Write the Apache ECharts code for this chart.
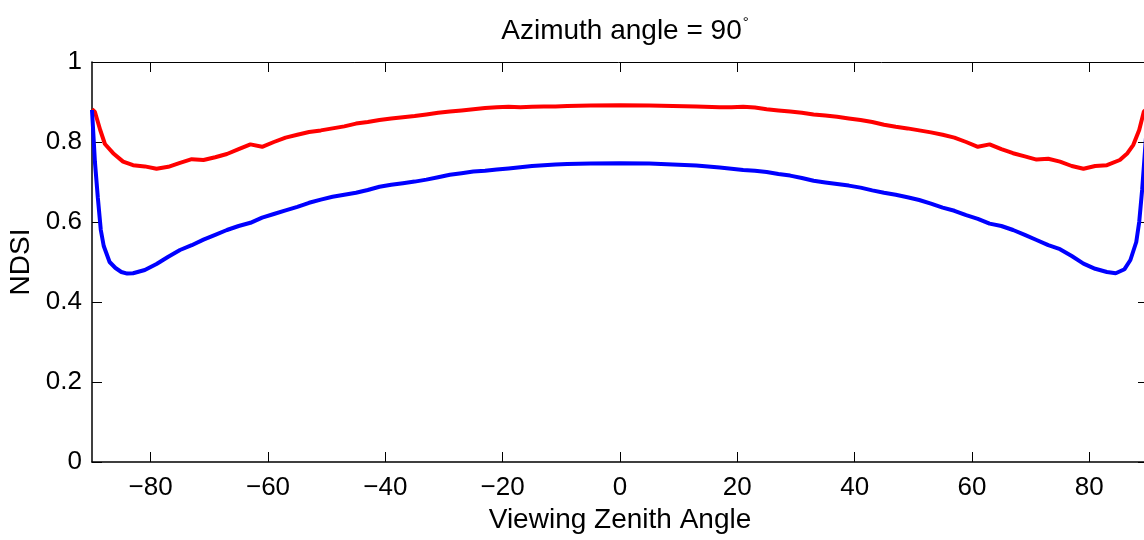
<!DOCTYPE html>
<html>
<head>
<meta charset="utf-8">
<script src="https://cdn.jsdelivr.net/npm/echarts@6/dist/echarts.min.js"></script>
<style>
  html, body { margin: 0; padding: 0; background: #fff; }
  #main { width: 1144px; height: 540px; }
</style>
</head>
<body>
<div id="main"></div>
<script>
// tick positions
var xTicks = [-80, -60, -40, -20, 0, 20, 40, 60, 80];

// red curve
var redAngles = [-90, -89.5, -88.6, -87.8, -86.4, -84.7, -83, -81, -79, -77, -75, -73, -71, -69, -67, -65, -63, -61, -59, -57, -55,
  -53, -51, -49, -47, -45, -43, -41, -39, -37, -35, -33, -31, -29, -27, -25, -23, -21, -19, -17, -15,
  -13, -11, -9, -5, 0, 5, 9, 13, 17, 19, 21, 23, 25, 27, 29, 31, 33, 35, 37, 39,
  41, 43, 45, 47, 49, 51, 53, 55, 57, 59, 61, 63, 65, 67, 69, 71, 73, 75, 77, 79,
  81, 83, 85.2, 86.5, 87.5, 88.5, 89.3, 90];
var redNdsi = [0.882, 0.875, 0.83, 0.795, 0.772, 0.751, 0.742, 0.739, 0.733, 0.738, 0.748, 0.757, 0.755, 0.762, 0.77, 0.782, 0.794, 0.788, 0.80, 0.811, 0.818,
  0.825, 0.829, 0.834, 0.839, 0.846, 0.85, 0.855, 0.859, 0.862, 0.865, 0.869, 0.873, 0.876, 0.879, 0.882, 0.885, 0.887, 0.888, 0.887, 0.888,
  0.889, 0.889, 0.890, 0.891, 0.892, 0.891, 0.890, 0.889, 0.887, 0.887, 0.888, 0.886, 0.882, 0.879, 0.876, 0.873, 0.869, 0.866, 0.863, 0.859,
  0.855, 0.85, 0.843, 0.838, 0.834, 0.829, 0.824, 0.818, 0.811, 0.80, 0.788, 0.794, 0.782, 0.772, 0.764, 0.756, 0.758, 0.751, 0.74, 0.733,
  0.74, 0.742, 0.755, 0.772, 0.793, 0.83, 0.876, 0.885];

// blue curve
var blueAngles = [-90, -89.5, -89, -88.5, -88, -87, -86, -85, -84, -83, -81, -79, -77, -75, -73, -71, -69, -67, -65, -63,
  -61, -59, -57, -55, -53, -51, -49, -47, -45, -43, -41, -39, -37, -35, -33, -31, -29, -27, -25, -23,
  -21, -19, -17, -15, -13, -11, -9, -5, 0, 5, 9, 13, 17, 19, 21, 23, 25, 27, 29, 31,
  33, 35, 37, 39, 41, 43, 45, 47, 49, 51, 53, 55, 57, 59, 61, 63, 65, 67, 69, 71,
  73, 75, 77, 79, 81, 83, 84.5, 86, 87, 88, 88.5, 89, 89.5, 90];
var blueNdsi = [0.88, 0.75, 0.66, 0.58, 0.54, 0.50, 0.485, 0.475, 0.471, 0.472, 0.48, 0.495, 0.513, 0.53, 0.542, 0.556, 0.568, 0.58, 0.59, 0.598,
  0.611, 0.62, 0.629, 0.638, 0.648, 0.656, 0.663, 0.668, 0.673, 0.68, 0.688, 0.693, 0.697, 0.701, 0.706, 0.712, 0.718, 0.722, 0.726, 0.728,
  0.731, 0.734, 0.737, 0.74, 0.742, 0.744, 0.745, 0.746, 0.747, 0.746, 0.744, 0.741, 0.736, 0.733, 0.73, 0.728, 0.725, 0.72, 0.716, 0.71,
  0.703, 0.699, 0.695, 0.691, 0.686, 0.679, 0.673, 0.668, 0.662, 0.655, 0.646, 0.636, 0.628, 0.617, 0.608, 0.596, 0.59, 0.58, 0.568, 0.555,
  0.542, 0.532, 0.515, 0.496, 0.483, 0.475, 0.472, 0.482, 0.505, 0.55, 0.60, 0.68, 0.78, 0.88];

function pairs(xs, ys) {
  return xs.map(function (x, i) { return [x, ys[i]]; });
}

var font = "'Liberation Sans', Arial, Helvetica, sans-serif";
var chart = echarts.init(document.getElementById('main'), null, { renderer: 'canvas' });

var option = {
  backgroundColor: '#fff',
  animation: false,
  textStyle: { fontFamily: font },
  title: {
    text: '{a|Azimuth angle = 90}{s|°}',
    left: 620,
    textAlign: 'center',
    top: 10,
    textStyle: {
      rich: {
        a: { fontFamily: font, fontSize: 28, fontWeight: 'normal', color: '#000' },
        s: { fontFamily: font, fontSize: 15, fontWeight: 'normal', color: '#000', verticalAlign: 'top', padding: [0, 0, 18, 1] }
      }
    }
  },
  // plot box runs a few pixels past the right edge, like the original figure
  grid: { left: 92, width: 1056, top: 62, bottom: 78, containLabel: false, outerBoundsMode: 'none' },
  xAxis: [{
    type: 'value',
    min: -90,
    max: 90,
    name: 'Viewing Zenith Angle',
    nameLocation: 'middle',
    nameGap: 42,
    nameTextStyle: { fontFamily: font, fontSize: 28, color: '#000' },
    axisLine: { show: true, onZero: false, lineStyle: { color: '#000', width: 1.5 } },
    axisTick: { show: true, inside: true, length: 10, customValues: xTicks, lineStyle: { color: '#000', width: 1 } },
    axisLabel: {
      customValues: xTicks, margin: 13, fontFamily: font, fontSize: 26, color: '#000',
      formatter: function (v) { return String(v).replace('-', '\u2212'); }
    },
    splitLine: { show: false }
  }, {
    type: 'value',
    min: -90,
    max: 90,
    position: 'top',
    axisLine: { show: true, onZero: false, lineStyle: { color: '#000', width: 1 } },
    axisTick: { show: true, inside: true, length: 10, customValues: xTicks, lineStyle: { color: '#000', width: 1 } },
    axisLabel: { show: false },
    splitLine: { show: false }
  }],
  yAxis: [{
    type: 'value',
    min: 0,
    max: 1,
    interval: 0.2,
    name: 'NDSI',
    nameLocation: 'middle',
    nameGap: 56,
    nameTextStyle: { fontFamily: font, fontSize: 28, color: '#000' },
    axisLine: { show: true, onZero: false, lineStyle: { color: '#000', width: 1.5 } },
    axisTick: { show: true, inside: true, length: 10, lineStyle: { color: '#000', width: 1 } },
    axisLabel: { margin: 10, fontFamily: font, fontSize: 26, color: '#000' },
    splitLine: { show: false }
  }, {
    type: 'value',
    min: 0,
    max: 1,
    interval: 0.2,
    position: 'right',
    axisLine: { show: true, onZero: false, lineStyle: { color: '#000', width: 1 } },
    axisTick: { show: true, inside: true, length: 10, lineStyle: { color: '#000', width: 1 } },
    axisLabel: { show: false },
    splitLine: { show: false }
  }],
  series: [{
    name: 'red',
    type: 'line',
    data: pairs(redAngles, redNdsi),
    showSymbol: false,
    lineStyle: { color: '#ff0000', width: 4 },
    clip: true
  }, {
    name: 'blue',
    type: 'line',
    data: pairs(blueAngles, blueNdsi),
    showSymbol: false,
    lineStyle: { color: '#0000ff', width: 4 },
    clip: true
  }]
};

chart.setOption(option);
</script>
</body>
</html>
